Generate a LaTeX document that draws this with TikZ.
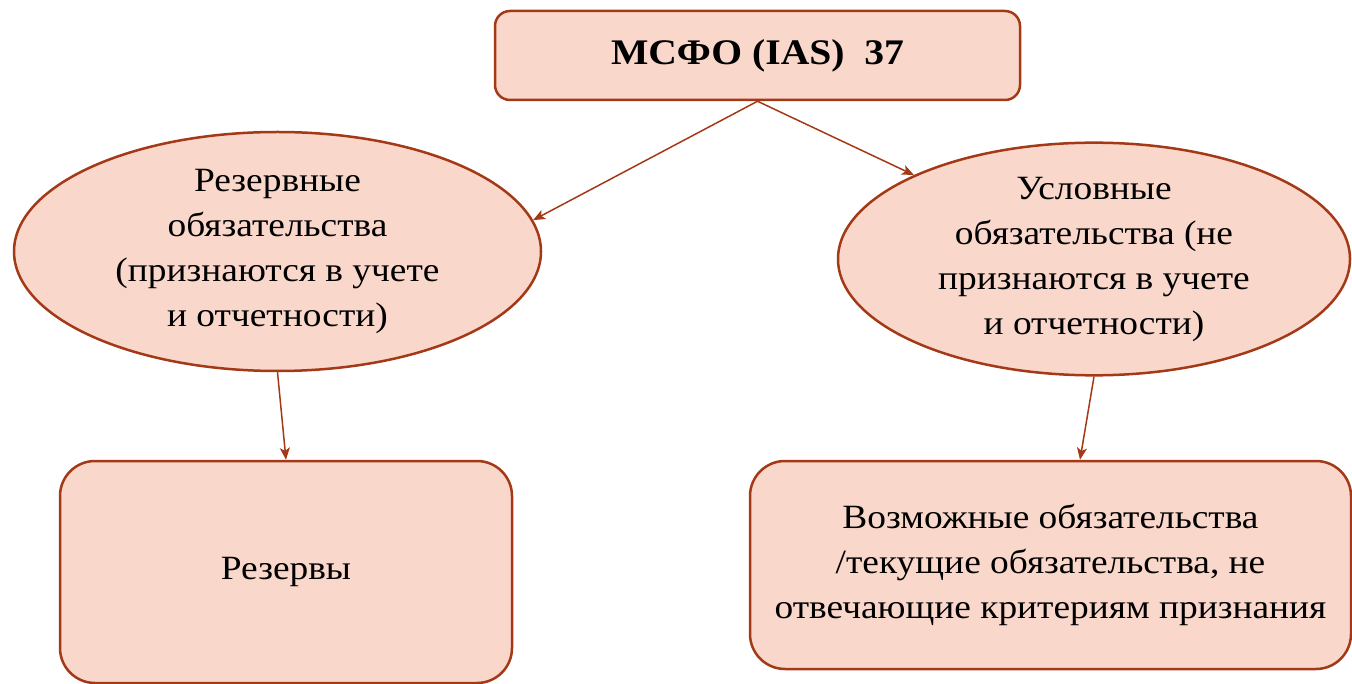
\documentclass[tikz,border=0pt]{standalone}
\usepackage{fontspec}
\setmainfont{Liberation Serif}[FakeStretch=1.1]
\usetikzlibrary{shapes.geometric,arrows.meta,calc}
\definecolor{boxfill}{HTML}{F9D7CB}
\definecolor{boxline}{RGB}{163,57,23}
\tikzset{
  rbox/.style={draw=boxline,fill=boxfill,line width=2.5pt,align=center,inner sep=0pt},
  ell/.style={ellipse,draw=boxline,fill=boxfill,line width=2.5pt,align=center,inner sep=0pt},
  txt/.style={font=\fontsize{34}{45}\selectfont},
  arr/.style={draw=boxline,line width=1.5pt,-{Stealth[length=12pt,width=10pt,inset=3pt]}}
}
\begin{document}
\begin{tikzpicture}[x=1pt,y=-1pt]
\useasboundingbox (0,0) rectangle (1352,684);
\node[rbox,rounded corners=15pt,minimum width=525pt,minimum height=89pt,
      font=\fontsize{36}{45}\selectfont\bfseries] (top) at (757.5,55.5) {МСФО (IAS)\ \ 37};
\node[ell,txt,minimum width=527pt,minimum height=239pt] (L) at (277.5,251.5)
  {Резервные\\обязательства\\(признаются в учете\\и отчетности)};
\node[ell,txt,minimum width=512pt,minimum height=226pt] (R) at (1094,259)
  {Условные\\обязательства (не\\признаются в учете\\и отчетности)};
\node[rbox,txt,rounded corners=35pt,minimum width=452pt,minimum height=222pt] (B1) at (286,572)
  {Резервы};
\node[rbox,txt,rounded corners=35pt,minimum width=601pt,minimum height=208pt] (B2) at (1050.5,565)
  {Возможные обязательства\\/текущие обязательства, не\\отвечающие критериям признания};
\draw[arr] (top.south) -- (L.7);
\draw[arr] (top.south) -- (R.155);
\draw[arr] (L.south) -- (B1.north);
\draw[arr] (R.south) -- ([xshift=29.5pt]B2.north);
\end{tikzpicture}
\end{document}
